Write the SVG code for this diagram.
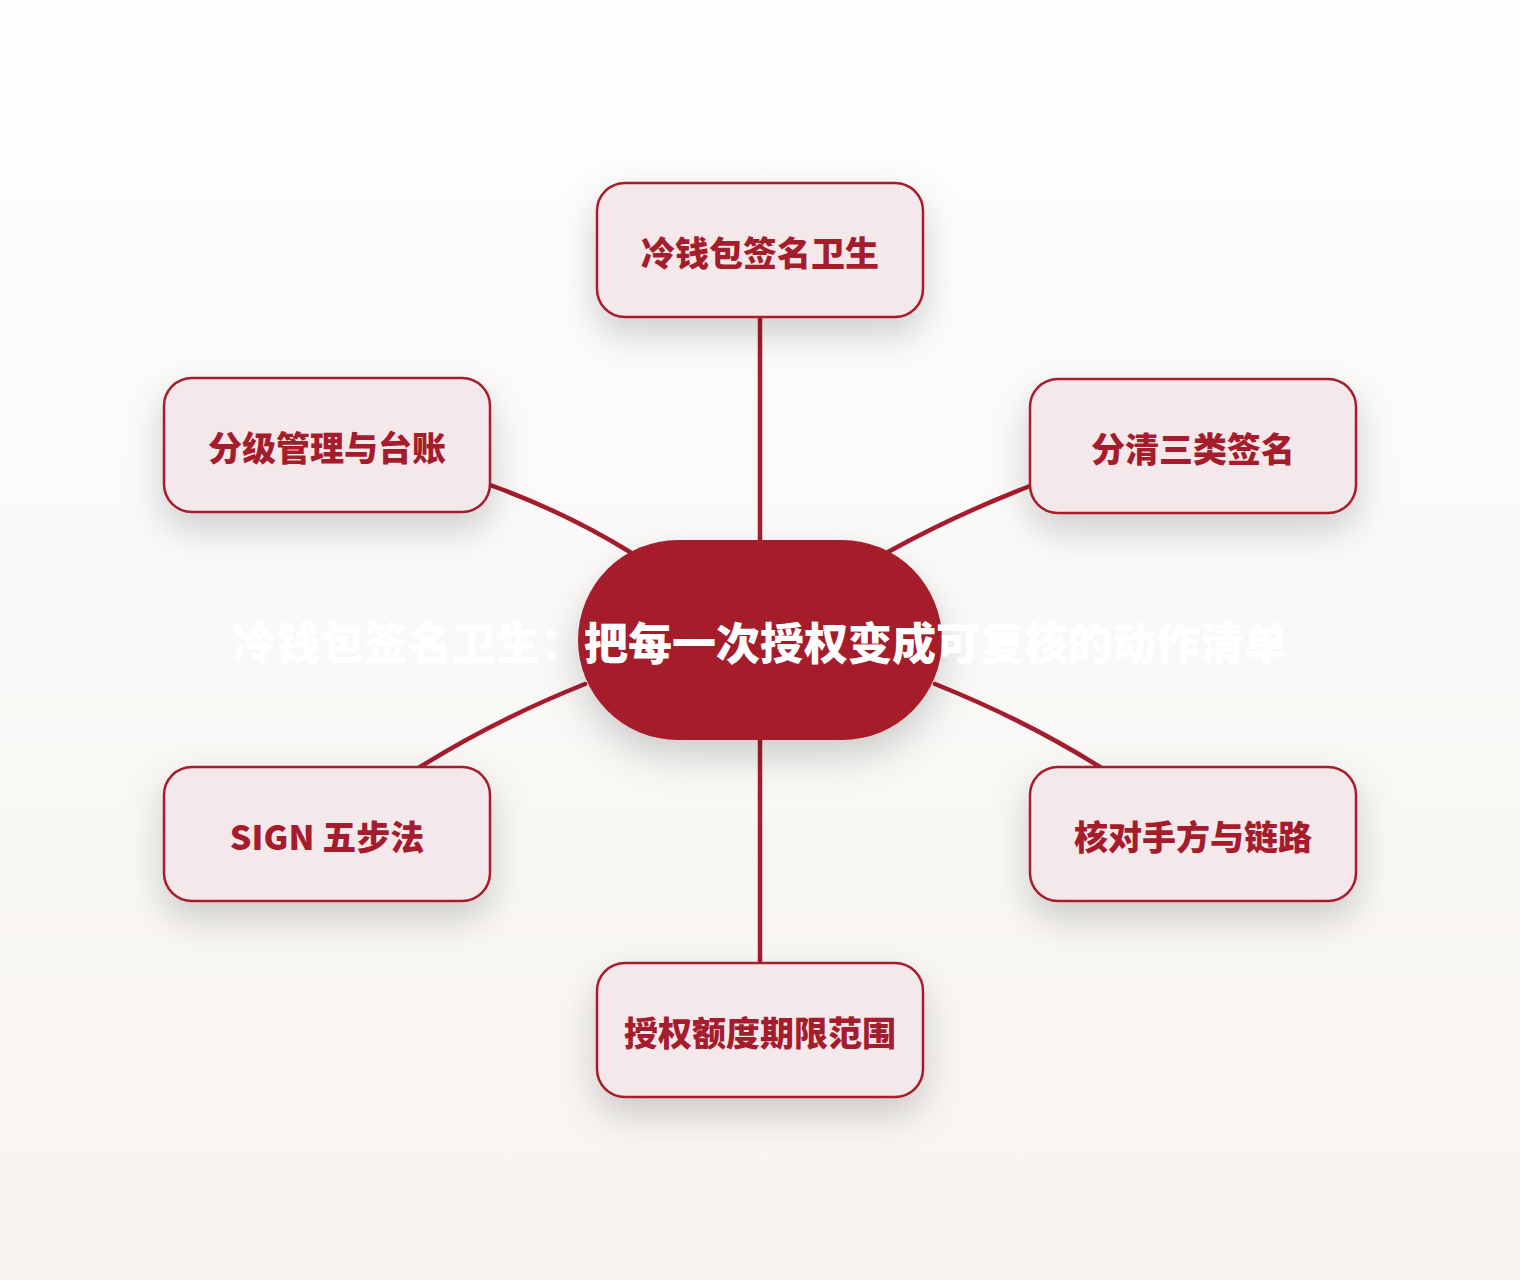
<svg xmlns="http://www.w3.org/2000/svg" width="1520" height="1280" viewBox="0 0 1520 1280">
<defs>
<linearGradient id="bg" x1="0" y1="0" x2="0" y2="1">
<stop offset="0" stop-color="#fefefe"/>
<stop offset="1" stop-color="#f7f4f0"/>
</linearGradient>
<filter id="sh" x="-40%" y="-40%" width="180%" height="200%">
<feDropShadow dx="0" dy="16" stdDeviation="18" flood-color="#000" flood-opacity="0.18"/>
</filter>
</defs>
<style>
.conn{fill:none;stroke:#a51c2c;stroke-width:4.5;stroke-linecap:round}
.box{fill:#f5e8eb;stroke:#a51c2c;stroke-width:2.5;filter:url(#sh)}
.lbl{font-family:"Noto Sans CJK SC","Noto Sans",sans-serif;font-weight:800;font-size:34px;fill:#a51c2c;text-anchor:middle;dominant-baseline:central}
.title{font-family:"Noto Sans CJK SC","Noto Sans",sans-serif;font-weight:800;font-size:44px;fill:#ffffff;text-anchor:middle;dominant-baseline:central}
</style>
<rect width="1520" height="1280" fill="url(#bg)"/>
<g id="connectors">
<path class="conn" d="M760 317 L760 540"/>
<path class="conn" d="M490 485 Q565 512 630 552"/>
<path class="conn" d="M1030 486 Q955 515 888 552"/>
<path class="conn" d="M420 767 Q495 720 585 684"/>
<path class="conn" d="M1100 767 Q1025 720 935 684"/>
<path class="conn" d="M760 740 L760 963"/>
</g>
<g id="n1"><rect class="box" x="597" y="183" width="326" height="134" rx="28"/><text class="lbl" x="760" y="251">冷钱包签名卫生</text></g>
<g id="n2"><rect class="box" x="1030" y="379" width="326" height="134" rx="28"/><text class="lbl" x="1193" y="447">分清三类签名</text></g>
<g id="n3"><rect class="box" x="1030" y="767" width="326" height="134" rx="28"/><text class="lbl" x="1193" y="835">核对手方与链路</text></g>
<g id="n4"><rect class="box" x="597" y="963" width="326" height="134" rx="28"/><text class="lbl" x="760" y="1031">授权额度期限范围</text></g>
<g id="n5"><rect class="box" x="164" y="767" width="326" height="134" rx="28"/><text class="lbl" x="327" y="835">SIGN 五步法</text></g>
<g id="n6"><rect class="box" x="164" y="378" width="326" height="134" rx="28"/><text class="lbl" x="327" y="446">分级管理与台账</text></g>
<g id="center"><rect x="578" y="540" width="364" height="200" rx="100" fill="#a51c2c" filter="url(#sh)"/><text class="title" x="760" y="641">冷钱包签名卫生：把每一次授权变成可复核的动作清单</text></g>
</svg>
